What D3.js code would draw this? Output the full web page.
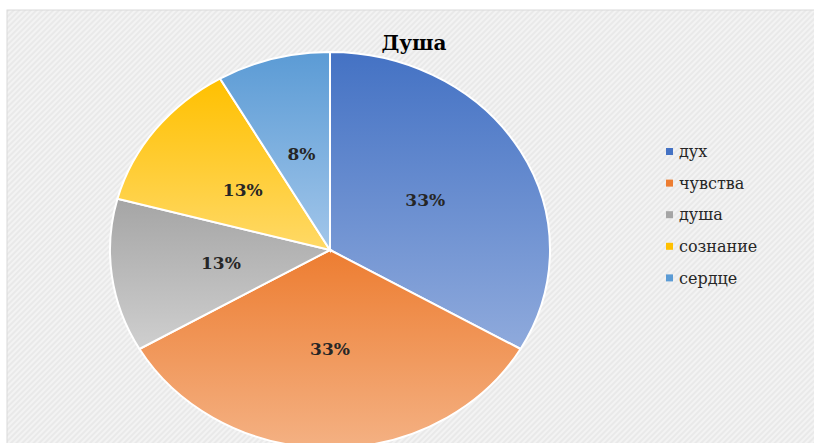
<!DOCTYPE html>
<html>
<head>
<meta charset="utf-8">
<script src="https://cdn.jsdelivr.net/npm/d3@7"></script>
<style>
  body { margin: 0; background: #fff; }
  svg { display: block; }
</style>
</head>
<body>
<svg id="chart"></svg>
<script>
// data (counts give 33/33/13/13/8 %)
var categories = ["дух", "чувства", "душа", "сознание", "сердце"]
var values = [8, 8, 3, 3, 2]
var colorsTop = ["#4472C4", "#ED7D31", "#A5A5A5", "#FFC000", "#5B9BD5"]
var colorsBottom = ["#8FAADC", "#F4B183", "#CFCFCF", "#FFD966", "#A2C6EA"]
var title = "Душа"

var width = 814
var height = 443
var sx = 220 / 198   // the picture is stretched horizontally
var font = "DejaVu Serif"

var svg = d3.select("#chart")
  .attr("width", width)
  .attr("height", height)

var defs = svg.append("defs")

// hatched background
var pat = defs.append("pattern")
  .attr("id", "hatch")
  .attr("width", 4)
  .attr("height", 4)
  .attr("patternUnits", "userSpaceOnUse")
  .attr("patternTransform", "rotate(45)")
pat.append("rect").attr("width", 4).attr("height", 4).attr("fill", "#f3f3f3")
pat.append("rect").attr("width", 2).attr("height", 4).attr("fill", "#e9e9e9")

// gradients per slice
categories.forEach(function(c, i) {
  var g = defs.append("linearGradient")
    .attr("id", "grad" + i)
    .attr("x1", 0).attr("y1", 0).attr("x2", 0).attr("y2", 1)
  g.append("stop").attr("offset", "0%").attr("stop-color", colorsTop[i])
  g.append("stop").attr("offset", "100%").attr("stop-color", colorsBottom[i])
})

svg.append("rect")
  .attr("x", 7).attr("y", 10)
  .attr("width", width - 6).attr("height", height)
  .attr("fill", "url(#hatch)")
  .attr("stroke", "#d9d9d9")

var cx = 330, cy = 250, r = 198

var pie = d3.pie().sort(null).value(d => d)
var arcs = pie(values)

var arc = d3.arc().innerRadius(0).outerRadius(r)
var labelArc = d3.arc().innerRadius(r * 0.5).outerRadius(r * 0.5)

var pieG = svg.append("g")
  .attr("transform", "translate(" + cx + "," + cy + ") scale(" + sx + ",1)")

pieG.selectAll("path")
  .data(arcs)
  .enter()
  .append("path")
  .attr("d", arc)
  .attr("fill", (d, i) => "url(#grad" + i + ")")
  .attr("stroke", "#fff")
  .attr("stroke-width", 2)
  .attr("vector-effect", "non-scaling-stroke")

var total = d3.sum(values)

svg.append("g")
  .selectAll("text")
  .data(arcs)
  .enter()
  .append("text")
  .attr("transform", function(d) {
    var c = labelArc.centroid(d)
    return "translate(" + (cx + c[0] * sx) + "," + (cy + c[1]) + ")"
  })
  .attr("text-anchor", "middle")
  .attr("dy", "0.35em")
  .style("font-family", font)
  .attr("font-weight", "bold")
  .attr("font-size", 17)
  .attr("fill", "#262626")
  .text(d => Math.round(d.data / total * 100) + "%")

svg.append("text")
  .attr("transform", "translate(414,50)")
  .attr("text-anchor", "middle")
  .style("font-family", font)
  .attr("font-weight", "bold")
  .attr("font-size", 20)
  .attr("fill", "#000")
  .text(title)

// legend
var legend = svg.append("g")
  .selectAll("g")
  .data(categories)
  .enter()
  .append("g")
  .attr("transform", (d, i) => "translate(666," + (152 + i * 31.6) + ")")

legend.append("rect")
  .attr("x", 0).attr("y", -4)
  .attr("width", 7).attr("height", 7)
  .attr("fill", (d, i) => colorsTop[i])

legend.append("text")
  .attr("transform", "translate(13,0)")
  .attr("dy", "0.32em")
  .style("font-family", font)
  .attr("font-size", 16)
  .attr("fill", "#262626")
  .text(d => d)
</script>
</body>
</html>
